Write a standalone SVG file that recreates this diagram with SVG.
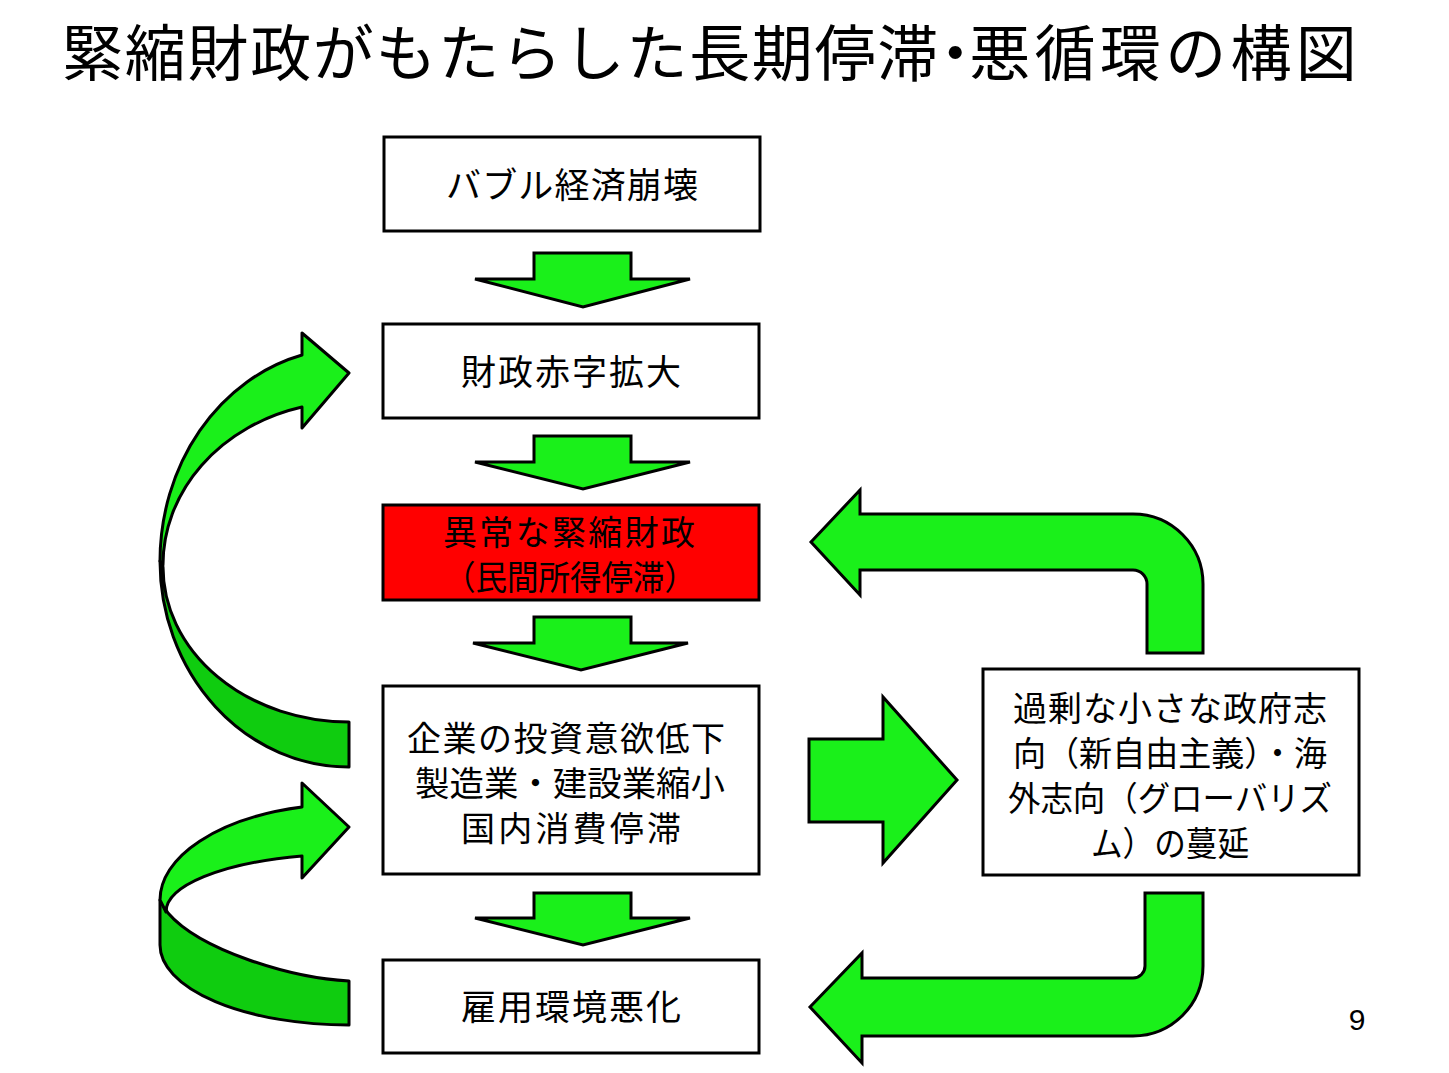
<svg xmlns="http://www.w3.org/2000/svg" width="1449" height="1073" viewBox="0 0 1449 1073">
<style>
.box{fill:#ffffff;stroke:#000000;stroke-width:3}
.red{fill:#ff0000;stroke:#000000;stroke-width:3}
.t{font-family:"Noto Sans CJK JP","Noto Sans CJK SC",sans-serif;font-size:35px;fill:#000000;text-anchor:middle}
.m{font-size:34px}
.title{font-family:"Noto Sans CJK JP","Noto Sans CJK SC",sans-serif;font-size:61px;fill:#000000}
.arr{fill:#1af01a;stroke:#000000;stroke-width:3;stroke-linejoin:miter}
.dark{fill:#0fcc0f;stroke:#000000;stroke-width:3;stroke-linejoin:round}
.light{fill:#1af01a;stroke:#000000;stroke-width:3;stroke-linejoin:round}
</style>
<rect width="1449" height="1073" fill="#ffffff"/>
<g id="title">
  <text class="title" x="62" y="76" dx="0 1.7 1.7 1.7 1.7 1.7 1.7 1.7 1.7 1.7 1.7 1.7 1.7 1.7 -13.6 -16.5 4.3 4.3 4.3 4.3 4.3">緊縮財政がもたらした長期停滞・悪循環の構図</text>
</g>

<g id="connectors">
  <path class="arr" d="M534,253 L631,253 L631,279 L690,279 L583,307 L475,279 L534,279 Z"/>
  <path class="arr" d="M534,436 L631,436 L631,462 L690,462 L583,489 L475,462 L534,462 Z"/>
  <path class="arr" d="M534,617 L631,617 L631,643 L688,643 L581,670 L473,643 L534,643 Z"/>
  <path class="arr" d="M534,893 L631,893 L631,918 L690,918 L583,945 L475,918 L534,918 Z"/>
  <path class="arr" d="M809,739 L883,739 L883,697 L957,780 L883,863 L883,822 L809,822 Z"/>
  <path class="arr" d="M811,542 L860,490 L860,514 L1133,514 A70,70 0 0 1 1203,584 L1203,653 L1147,653 L1147,584 A14,14 0 0 0 1133,570 L860,570 L860,595 Z"/>
  <path class="arr" d="M1145,893 L1203,893 L1203,966 A70,70 0 0 1 1133,1036 L862,1036 L862,1063 L810,1007 L862,953 L862,978 L1133,978 A12,12 0 0 0 1145,966 Z"/>
  <path class="dark" d="M160,561 A189,206 0 0 0 349,767 L349,722 A186,155 0 0 1 163,567 Z"/>
  <path class="light" d="M302,355 A189,213 0 0 0 160,561 L163,565 A186,163 0 0 1 302,407 L302,428 L349,373 L302,333 Z"/>
  <path class="dark" d="M160,900 L160,945 A189,80 0 0 0 349,1025 L349,981 C290,978 200,950 168,913 Z"/>
  <path class="light" d="M302,807 A189,96 0 0 0 160,900 L166,912 A184,58 0 0 1 302,856 L302,878 L349,827 L302,783 Z"/>
</g>

<g id="node-bubble">
  <rect class="box" x="384" y="137" width="376" height="94"/>
  <text class="t" x="572" y="198" textLength="252" lengthAdjust="spacing">バブル経済崩壊</text>
</g>
<g id="node-deficit">
  <rect class="box" x="383" y="324" width="376" height="94"/>
  <text class="t" x="571" y="385" textLength="220" lengthAdjust="spacing">財政赤字拡大</text>
</g>
<g id="node-austerity">
  <rect class="red" x="383" y="505" width="376" height="95"/>
  <text class="t m"><tspan x="569" y="545" textLength="252" lengthAdjust="spacing">異常な緊縮財政</tspan><tspan x="570" y="590" textLength="252" lengthAdjust="spacingAndGlyphs">（民間所得停滞）</tspan></text>
</g>
<g id="node-investment">
  <rect class="box" x="383" y="686" width="376" height="188"/>
  <text class="t m"><tspan x="566" y="751" textLength="318" lengthAdjust="spacing">企業の投資意欲低下</tspan><tspan x="570" y="796" textLength="310" lengthAdjust="spacingAndGlyphs">製造業・建設業縮小</tspan><tspan x="571" y="841" textLength="220" lengthAdjust="spacing">国内消費停滞</tspan></text>
</g>
<g id="node-employment">
  <rect class="box" x="383" y="960" width="376" height="93"/>
  <text class="t" x="571" y="1020" textLength="220" lengthAdjust="spacing">雇用環境悪化</text>
</g>
<g id="node-smallgov">
  <rect class="box" x="983" y="669" width="376" height="206"/>
  <text class="t m"><tspan x="1170" y="721" textLength="314" lengthAdjust="spacing">過剰な小さな政府志</tspan><tspan x="1170" y="766" textLength="314" lengthAdjust="spacingAndGlyphs">向（新自由主義）・海</tspan><tspan x="1170" y="811" textLength="324" lengthAdjust="spacingAndGlyphs">外志向（グローバリズ</tspan><tspan x="1170" y="856" textLength="158" lengthAdjust="spacingAndGlyphs">ム）の蔓延</tspan></text>
</g>
<text x="1357" y="1030" style="font-family:'Liberation Sans',Arial,sans-serif;font-size:30px;fill:#000;text-anchor:middle">9</text>
</svg>
